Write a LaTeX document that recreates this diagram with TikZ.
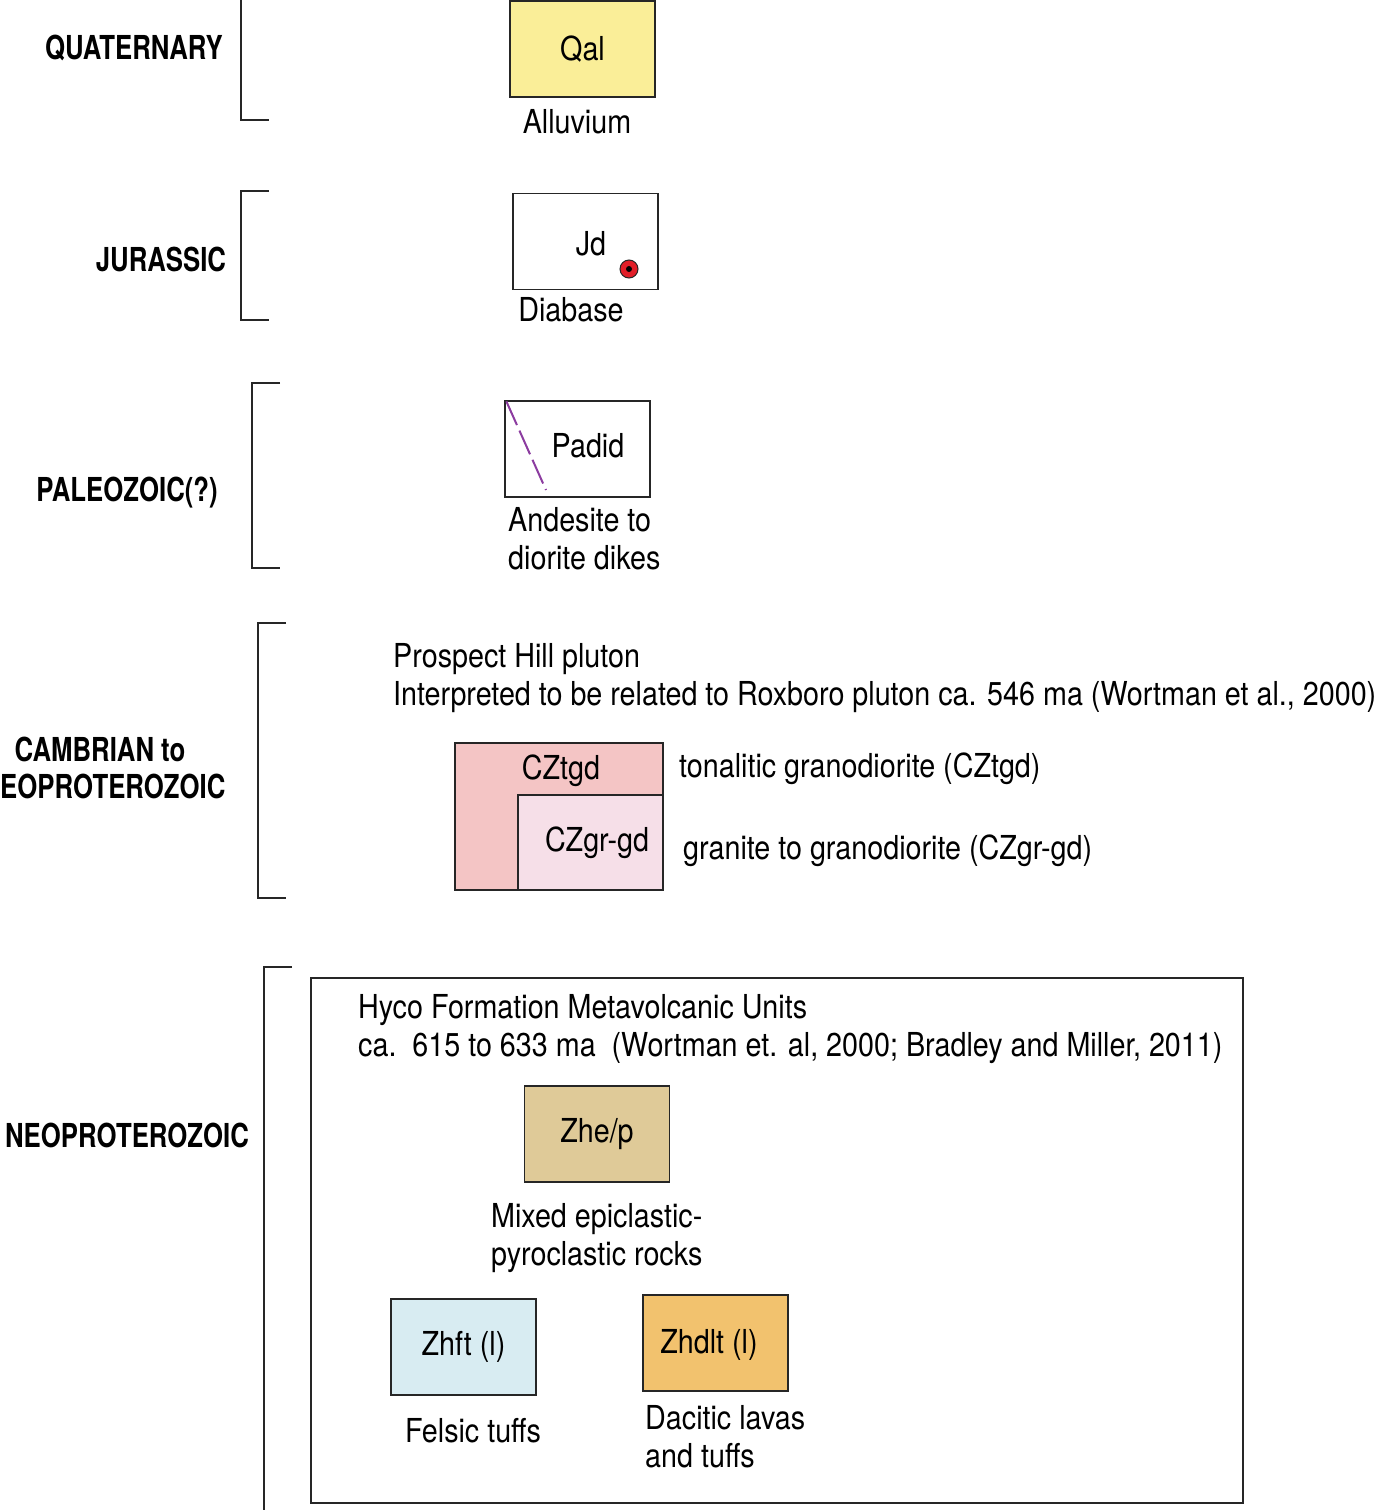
\documentclass[tikz,border=0pt]{standalone}
\usepackage{fontspec}
\setmainfont{TeX Gyre Heros}[FakeStretch=0.87]
\newfontfamily\periodfamily{TeX Gyre Heros}[FakeStretch=0.78]
\usetikzlibrary{positioning}
\definecolor{qalyellow}{RGB}{250,238,152}
\definecolor{tgdpink}{RGB}{244,197,197}
\definecolor{grgdpink}{RGB}{246,223,232}
\definecolor{heptan}{RGB}{223,202,152}
\definecolor{ftblue}{RGB}{216,236,242}
\definecolor{dltorange}{RGB}{242,194,110}
\definecolor{dikepurple}{RGB}{140,60,160}
\definecolor{diabred}{RGB}{225,30,40}
\newcommand{\unitfont}{\fontsize{33}{38}\selectfont}
\tikzset{
	unitbox/.style={draw=black!85, line width=1.3pt, minimum width=145pt, minimum height=96pt, inner sep=0pt},
	period/.style={font=\unitfont\periodfamily\bfseries, inner sep=0pt},
	caption/.style={inner sep=0pt, align=left},
	bracket/.style={line width=2.6pt, black!85}
}

\begin{document}
\begin{tikzpicture}[x=1pt, y=-1pt, font=\unitfont]
			\useasboundingbox (0,0) rectangle (1390,1510);
			% periods
			\node[period] (quat) at (134,48) {QUATERNARY};
			\node[period] (jura) at (161,259) {JURASSIC};
			\node[period] (paleo) at (127,493) {PALEOZOIC(?)};
			\node[period] (camb) at (100,749) {CAMBRIAN to};
			\node[period, anchor=west] (eoprot) at (0,786) {EOPROTEROZOIC};
			\node[period] (neo) at (127,1135) {NEOPROTEROZOIC};
			\draw [bracket] (241,-2) -- (241,120) -- (269,120);
			\draw [bracket] (269,191) -- (241,191) -- (241,320) -- (269,320);
			\draw [bracket] (280,383) -- (252,383) -- (252,568) -- (280,568);
			\draw [bracket] (286,623) -- (258,623) -- (258,898) -- (286,898);
			\draw [bracket] (292,967) -- (264,967) -- (264,1512);
			% quaternary
			\node[unitbox, fill=qalyellow] (qal) at (582.5,49) {Qal};
			\node[caption] (alluv) at (577,122) {Alluvium};
			% jurassic
			\node[unitbox, fill=white] (jd) at (585.5,241.5) {};
			\node[inner sep=0pt] (jdlbl) at (591,244) {Jd};
			\fill[color=diabred, draw=black!85, line width=1pt] (629,269) circle (9);
			\fill[black] (629,269) circle (3);
			\node[caption] (diab) at (571,310) {Diabase};
			% paleozoic
			\node[unitbox, fill=white] (padid) at (577.5,449) {};
			\draw [dikepurple, line width=2pt, dash pattern=on 26pt off 6pt] (padid.north west) ++(2,1) -- (546,490);
			\node[inner sep=0pt] (padidlbl) at (588,446) {Padid};
			\node[caption, anchor=north west] (dikes) at (508,507) {Andesite to\\diorite dikes};
			% cambrian to neoproterozoic
			\node[caption, anchor=north west] (phill) at (393,643) {Prospect Hill pluton\\Interpreted to be related to Roxboro pluton ca. 546 ma (Wortman et al., 2000)};
			\node[unitbox, fill=tgdpink, minimum width=208pt, minimum height=147pt] (tgd) at (559,816.5) {};
			\node[unitbox, fill=grgdpink, minimum height=95pt] (grgd) at (590.5,842.5) {};
			\node[inner sep=0pt] (tgdlbl) at (561,771) {CZtgd};
			\node[inner sep=0pt] (grgdlbl) at (597,843) {CZgr-gd};
			\node[caption, anchor=west] (tgdtxt) at (679,769) {tonalitic granodiorite (CZtgd)};
			\node[caption, anchor=west] (grgdtxt) at (683,851) {granite to granodiorite (CZgr-gd)};
			% neoproterozoic
			\draw [black!85, line width=1.3pt] (311,978) rectangle (1243,1503);
			\node[caption, anchor=north west] (hyco) at (358,994) {Hyco Formation Metavolcanic Units\\ca.\ \ 615 to 633 ma\ \ (Wortman et. al, 2000; Bradley and Miller, 2011)};
			\node[unitbox, fill=heptan] (zhep) at (597,1134) {Zhe/p};
			\node[caption, anchor=north west] (mixed) at (491,1203) {Mixed epiclastic-\\pyroclastic rocks};
			\node[unitbox, fill=ftblue] (zhft) at (463.5,1347) {Zhft (l)};
			\node[caption] (felsic) at (473,1431) {Felsic tuffs};
			\node[unitbox, fill=dltorange] (zhdlt) at (715.5,1343) {};
			\node[inner sep=0pt] (zhdltlbl) at (709,1345) {Zhdlt (l)};
			\node[caption, anchor=north west] (dacitic) at (645,1405) {Dacitic lavas\\and tuffs};
		\end{tikzpicture}
\end{document}
